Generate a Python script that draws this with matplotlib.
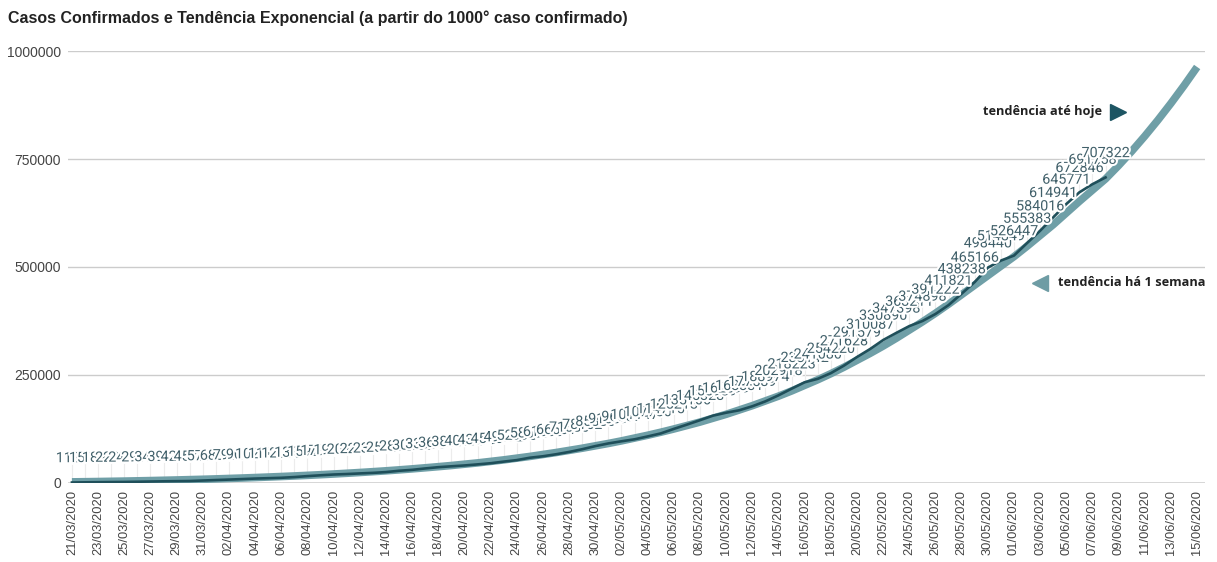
import matplotlib
matplotlib.use('Agg')
import matplotlib.pyplot as plt
import matplotlib.patheffects as pe
import pandas as pd

title = "Casos Confirmados e Tendência Exponencial (a partir do 1000° caso confirmado)"
dates = pd.date_range('2020-03-21', '2020-06-15').strftime('%d/%m/%Y').tolist()

confirmed = [1128, 1546, 1891, 2201, 2433, 2915, 3417, 3904, 4256, 4579,
             5717, 6836, 7910, 9056, 10278, 11130, 12056, 13717, 15927, 17857,
             19638, 20727, 22169, 23430, 25262, 28320, 30425, 33682, 36599, 38654,
             40581, 43079, 45757, 49492, 52995, 58509, 61888, 66501, 71886, 78162,
             85380, 91589, 96559, 101147, 107780, 114715, 125218, 135106, 145328, 155939,
             162699, 168331, 177589, 188974, 202918, 218223, 233142, 241080, 254220, 271628,
             291579, 310087, 330890, 347398, 363211, 374898, 391222, 411821, 438238, 465166,
             498440, 514849, 526447, 555383, 584016, 614941, 645771, 672846, 691758, 707322]

trend = [2600, 3000, 3400, 3900, 4400, 5000, 5600, 6300, 7000, 7800,
         8600, 9500, 10500, 11500, 12600, 13800, 15000, 16300, 17700, 19200,
         20800, 22500, 24300, 26200, 28200, 30400, 32700, 35200, 37800, 40500,
         43500, 46500, 50000, 53500, 57500, 61500, 66000, 70500, 75500, 80500,
         86000, 91500, 97500, 104000, 110500, 117500, 125000, 133000, 141000, 150000,
         159000, 169000, 179000, 190000, 201000, 213000, 226000, 239000, 253000, 268000,
         284000, 300000, 317000, 335000, 354000, 373000, 393000, 414000, 436000, 458000,
         480000, 502000, 524000, 548000, 573000, 598000, 625000, 652000, 678000, 704000,
         735000, 768000, 803000, 840000, 879000, 920000, 963000]

yticks = [0, 250000, 500000, 750000, 1000000]
legend_hoje = "tendência até hoje"
legend_semana = "tendência há 1 semana"

W, H = 1217, 562
fig = plt.figure(figsize=(W / 100, H / 100), dpi=100)
ax = fig.add_axes([68 / W, 79 / H, 1137 / W, 432 / H])
ax.set_xlim(-0.3, 86.6)
ax.set_ylim(0, 1000000)

for s in ax.spines.values():
    s.set_visible(False)

for y in yticks[1:]:
    ax.axhline(y, color='#cccccc', lw=1, zorder=0)
ax.axhline(0, color='#333333', lw=1, zorder=1)

# annotation stems
px = 1000000 / 432.0
for i, v in enumerate(confirmed):
    ax.plot([i, i], [v, v + 18 * px], color='#ececec', lw=0.8, zorder=0.5)

ax.plot(range(len(trend)), trend, color='#6f9fa7', lw=5.5, solid_capstyle='butt', zorder=2)
ax.plot(range(len(confirmed)), confirmed, color='#1f4f5a', lw=1.9, zorder=3)

for i, v in enumerate(confirmed):
    ax.annotate(str(v), (i, v), xytext=(0, 17.5), textcoords='offset points',
                ha='center', va='center', fontsize=10.3, family='Roboto', color='#41606a',
                path_effects=[pe.withStroke(linewidth=3, foreground='white')],
                zorder=4, annotation_clip=False)

ax.set_yticks(yticks)
ax.set_yticklabels([str(v) for v in yticks], family='Liberation Sans', fontsize=10, color='#444444')
ax.set_xticks(range(0, len(dates), 2))
ax.set_xticklabels(dates[::2], rotation=90, family='Liberation Sans', fontsize=9.3, color='#444444')
ax.tick_params(axis='both', length=0)
ax.tick_params(axis='y', pad=5)
ax.tick_params(axis='x', pad=5)

fig.text(8 / W, 1 - 18 / H, title, fontsize=11.5, weight='bold', family='Liberation Sans',
         va='center', ha='left', color='#222222')

fig.text(1102 / W, 1 - 112 / H, legend_hoje, ha='right', va='center', family='Open Sans',
         weight='bold', fontsize=9.2, color='#222222')
ax.plot([1118 / W], [1 - 112 / H], marker='>', ms=11, color='#1d5563', transform=fig.transFigure,
        clip_on=False, zorder=5)
fig.text(1058 / W, 1 - 283 / H, legend_semana, ha='left', va='center', family='Open Sans',
         weight='bold', fontsize=9.2, color='#222222')
ax.plot([1040 / W], [1 - 283 / H], marker='<', ms=12, color='#6e9ca4', transform=fig.transFigure,
        clip_on=False, zorder=5)

fig.savefig('out.png', dpi=100)
